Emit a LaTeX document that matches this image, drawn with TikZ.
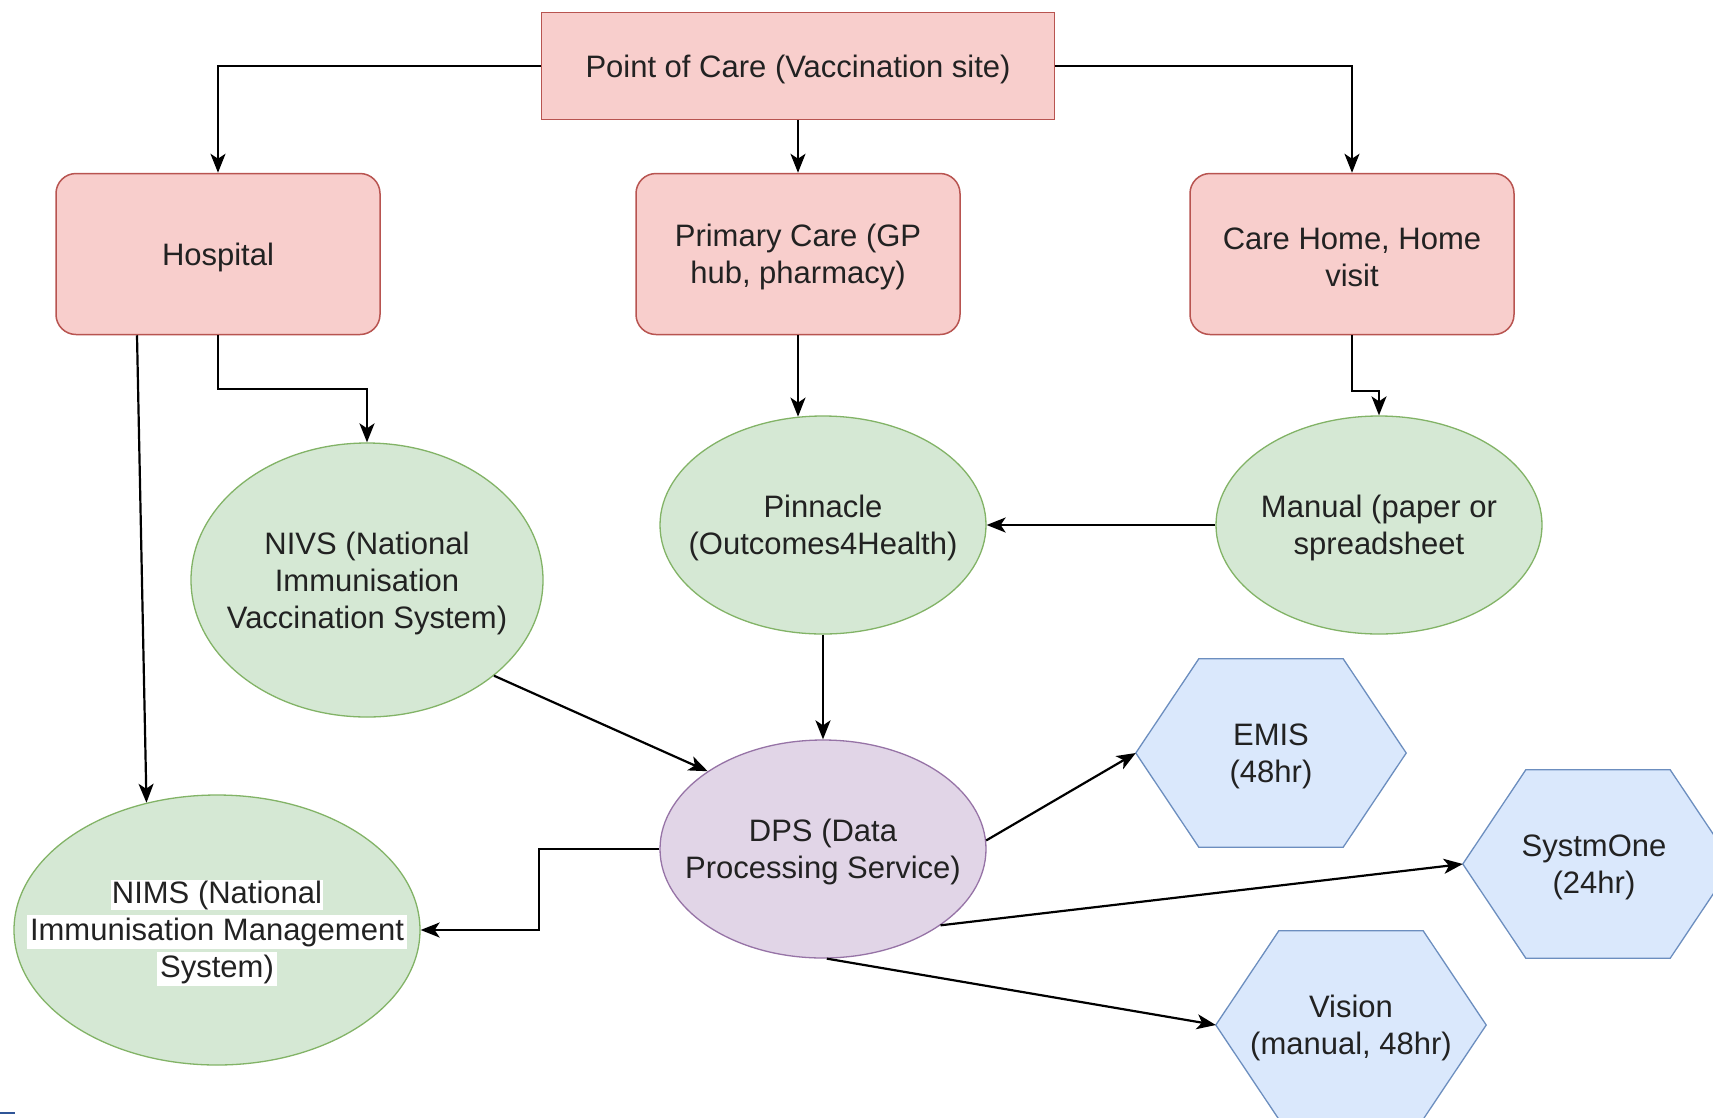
\documentclass[tikz,border=0pt]{standalone}
\usepackage{fontspec}
\setmainfont{Liberation Sans}
\usetikzlibrary{arrows.meta,shapes.geometric,backgrounds,calc}
\definecolor{pinkf}{HTML}{F8CECC}
\definecolor{pinkd}{HTML}{B85450}
\definecolor{greenf}{HTML}{D5E8D4}
\definecolor{greend}{HTML}{82B366}
\definecolor{purf}{HTML}{E1D5E7}
\definecolor{purd}{HTML}{9673A6}
\definecolor{bluef}{HTML}{DAE8FC}
\definecolor{blued}{HTML}{6C8EBF}
\definecolor{txt}{HTML}{222222}
\definecolor{markblue}{HTML}{2F5597}
\begin{document}
\begin{tikzpicture}[x=1pt,y=-1pt,
  every node/.style={font=\fontsize{31}{37}\selectfont, text=txt, align=center, inner sep=0pt},
  rectbox/.style={draw=pinkd, fill=pinkf, line width=1.5pt, minimum width=513pt, minimum height=107pt},
  roundbox/.style={draw=pinkd, fill=pinkf, line width=1.5pt, rounded corners=20pt, minimum width=324pt, minimum height=161pt},
  greenell/.style={ellipse, draw=greend, fill=greenf, line width=1.3pt},
  purell/.style={ellipse, draw=purd, fill=purf, line width=1.3pt},
  hexbox/.style={minimum width=270pt, minimum height=188pt},
  hexshape/.style={draw=blued, fill=bluef, line width=1.3pt},
  lbl/.style={yshift=-3pt},
  arr/.style={draw=black, line width=2.2pt, -{Stealth[length=19pt,width=15pt,inset=5pt]}},
]
\useasboundingbox (0,0) rectangle (1713,1117);

% top boxes
\node[rectbox] (poc) at (798,66) {};
\node[lbl] (poct) at (poc.center) {Point of Care (Vaccination site)};
\node[roundbox] (hosp) at (218,254) {};
\node[lbl] (hospt) at (hosp.center) {Hospital};
\node[roundbox] (prim) at (798,254) {};
\node[lbl] (primt) at (prim.center) {Primary Care (GP\\hub, pharmacy)};
\node[roundbox] (care) at (1352,254) {};
\node[lbl] (caret) at (care.center) {Care Home, Home\\visit};

% ellipses
\node[greenell, minimum width=352pt, minimum height=274pt] (nivs) at (367,580) {};
\node[lbl] (nivst) at (nivs.center) {NIVS (National\\Immunisation\\Vaccination System)};
\node[greenell, minimum width=326pt, minimum height=218pt] (pinn) at (823,525) {};
\node[lbl] (pinnt) at (pinn.center) {Pinnacle\\(Outcomes4Health)};
\node[greenell, minimum width=326pt, minimum height=218pt] (manual) at (1379,525) {};
\node[lbl] (manualt) at (manual.center) {Manual (paper or\\spreadsheet};
\node[purell, minimum width=326pt, minimum height=218pt] (dps) at (823,849) {};
\node[lbl] (dpst) at (dps.center) {DPS (Data\\Processing Service)};
\node[greenell, minimum width=406pt, minimum height=270pt] (nims) at (217,930) {};
\node[lbl] (nimst) at (nims.center) {\setlength{\fboxsep}{1pt}\colorbox{white}{NIMS (National}\\\colorbox{white}{Immunisation Management}\\\colorbox{white}{System)}};

% hexagons
\node[hexbox] (emis) at (1271,753) {};
\node[lbl] (emist) at (emis.center) {EMIS\\(48hr)};
\node[hexbox] (syst) at (1598,864) {};
\node[lbl] (systt) at (1594,864) {SystmOne\\(24hr)};
\node[hexbox] (vis) at (1351,1025) {};
\node[lbl] (vist) at (vis.center) {Vision\\(manual, 48hr)};
\begin{pgfonlayer}{background}
\fill[white] (0,0) rectangle (1713,1117);
\foreach \n in {emis,syst,vis}
  \filldraw[hexshape] ([xshift=63pt]\n.north west) -- ([xshift=-63pt]\n.north east) -- (\n.east)
    -- ([xshift=-63pt]\n.south east) -- ([xshift=63pt]\n.south west) -- (\n.west) -- cycle;
\end{pgfonlayer}

% connectors
\draw[arr] (poc.west) -| (hosp.north);
\draw[arr] (poc.south) -- (prim.north);
\draw[arr] (poc.east) -| (care.north);
\draw[arr] (hosp.south) -- ++(0,54) -| (nivs.north);
\draw[arr] ([xshift=-81pt]hosp.south) -- (nims.119);
\draw[arr] (prim.south) -- (prim.south |- pinn.103);
\draw[arr] (care.south) -- ++(0,56) -| (manual.north);
\draw[arr] (manual.west) -- (pinn.east);
\draw[arr] (pinn.south) -- (dps.north);
\draw[arr] (nivs.-37) -- (dps.146);
\draw[arr] (dps.west) -- ++(-120,0) |- (nims.east);
\draw[arr] (dps.3) -- (emis.west);
\draw[arr] (dps.-33) -- (syst.west);
\draw[arr] (dps.-88) -- (vis.west);

% small mark at the bottom left
\draw[markblue, line width=2pt] (0,1113) -- (15,1113);
\end{tikzpicture}
\end{document}
